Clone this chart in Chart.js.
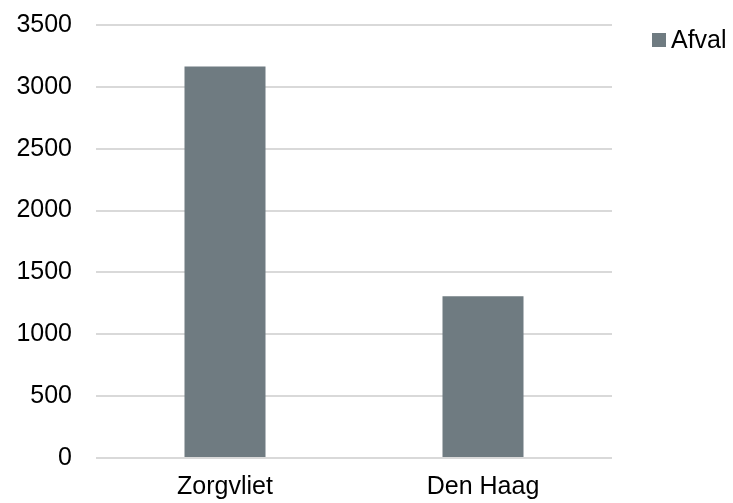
<!DOCTYPE html>
<html>
<head>
<meta charset="utf-8">
<script src="https://cdn.jsdelivr.net/npm/chart.js@4"></script>
<style>
  html, body { margin: 0; padding: 0; background: #fff; }
  #wrap { width: 733px; height: 503px; }
</style>
</head>
<body>
<div id="wrap"><canvas id="chart" width="733" height="503"></canvas></div>
<script>
// data
const categories = ["Zorgvliet", "Den Haag"];
const seriesName = "Afval";
const afval = [3165, 1308];
const yTicks = [0, 500, 1000, 1500, 2000, 2500, 3000, 3500];

const fontFamily = "'Liberation Sans', Arial, sans-serif";
Chart.defaults.font.family = fontFamily;
Chart.defaults.color = "#000";

// legend on the right, drawn from the dataset itself (tight box-text gap like the original)
const sideLegend = {
    id: 'sideLegend',
    afterDraw(chart) {
        const ctx = chart.ctx;
        const ds = chart.data.datasets[0];
        const x = chart.chartArea.right + 40;
        const y = 40;
        ctx.save();
        ctx.fillStyle = ds.backgroundColor;
        ctx.fillRect(x, y - 7, 14, 14);
        ctx.fillStyle = "#000";
        ctx.font = "25px " + fontFamily;
        ctx.textBaseline = 'middle';
        ctx.fillText(ds.label, x + 19, y + 1);
        ctx.restore();
    }
};

new Chart(document.getElementById("chart"), {
    type: 'bar',
    data: {
        labels: categories,
        datasets: [
            {
                label: seriesName,
                backgroundColor: "#6f7b81",
                data: afval,
                categoryPercentage: 1,
                barPercentage: 0.314
            }
        ]
    },
    plugins: [sideLegend],
    options: {
        responsive: false,
        animation: false,
        layout: { padding: { left: 16, top: 25, right: 121, bottom: 0 } },
        plugins: {
            tooltip: { enabled: false },
            legend: { display: false }
        },
        scales: {
            x: {
                grid: { display: false },
                border: { display: false },
                ticks: { font: { size: 25 }, padding: 6, maxRotation: 0 },
                afterFit: axis => {
                    axis.height = 45;
                    axis.paddingLeft = 0;
                    axis.paddingRight = 0;
                }
            },
            y: {
                min: yTicks[0],
                max: yTicks[yTicks.length - 1],
                afterBuildTicks: axis => { axis.ticks = yTicks.map(v => ({ value: v })); },
                grid: { color: "#d9d9d9", lineWidth: 2, drawTicks: false },
                border: { display: false },
                ticks: {
                    font: { size: 25 },
                    padding: 24,
                    callback: v => String(v)
                },
                afterFit: axis => {
                    axis.width = 80;
                    axis.paddingTop = 0;
                    axis.paddingBottom = 0;
                }
            }
        }
    }
});
</script>
</body>
</html>
